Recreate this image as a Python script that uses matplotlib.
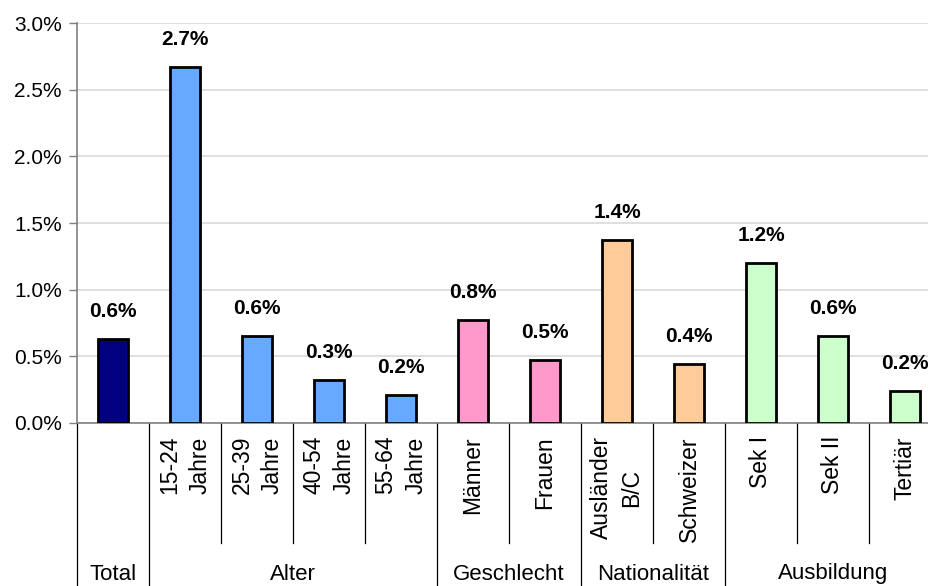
import matplotlib.pyplot as plt
from matplotlib.ticker import FuncFormatter

plt.rcParams['font.family'] = ['Liberation Sans', 'DejaVu Sans']

# data
categories = ["", "15-24\nJahre", "25-39\nJahre", "40-54\nJahre", "55-64\nJahre",
              "Männer", "Frauen", "Ausländer\nB/C", "Schweizer",
              "Sek I", "Sek II", "Tertiär"]
values = [0.63, 2.67, 0.65, 0.32, 0.21, 0.77, 0.47, 1.37, 0.44, 1.20, 0.65, 0.24]
value_labels = ["0.6%", "2.7%", "0.6%", "0.3%", "0.2%", "0.8%", "0.5%",
                "1.4%", "0.4%", "1.2%", "0.6%", "0.2%"]
groups = ["Total", "Alter", "Geschlecht", "Nationalität", "Ausbildung"]
group_sizes = [1, 4, 2, 2, 3]
group_colors = ["#000080", "#66AAFF", "#FF99CC", "#FFCC99", "#CCFFCC"]

colors = []
for c, n in zip(group_colors, group_sizes):
    colors += [c] * n

W, H = 929, 586
fig = plt.figure(figsize=(W / 100, H / 100), dpi=100)
# plot area runs past the right edge of the picture, like the original
ax = fig.add_axes([77 / W, (H - 423) / H, 864 / W, 400 / H])

x = list(range(len(categories)))
bars = ax.bar(x, values, width=0.43, color=colors, edgecolor="black", linewidth=2.0, zorder=3)

for b, lab in zip(bars, value_labels):
    ax.annotate(lab, xy=(b.get_x() + b.get_width() / 2, b.get_height()),
                xytext=(0, 13), textcoords="offset points",
                ha="center", va="bottom", fontsize=15, fontweight="bold")

ax.set_xlim(-0.5, len(categories) - 0.5)
ax.set_ylim(0, 3.0)
ax.set_yticks([0, 0.5, 1.0, 1.5, 2.0, 2.5, 3.0])
ax.yaxis.set_major_formatter(FuncFormatter(lambda v, p: "{:.1f}%".format(v)))
ax.tick_params(axis="y", labelsize=15, length=6, width=1, color="#808080", pad=5)
ax.set_xticks([])
ax.grid(axis="y", color="#d9d9d9", linewidth=1.2, zorder=0)

for s in ["top", "right"]:
    ax.spines[s].set_visible(False)
ax.spines["left"].set_color("#808080")
ax.spines["left"].set_linewidth(1.2)
ax.spines["bottom"].set_color("#808080")
ax.spines["bottom"].set_linewidth(1.2)

trans = ax.get_xaxis_transform()
short_y = -120 / 400
long_y = -165 / 400

# category labels, rotated
for i, cat in enumerate(categories):
    if cat:
        ax.text(i, -13 / 400, cat, transform=trans, rotation=90, ha="center", va="top",
                multialignment="center", fontsize=16.5, linespacing=1.4)

# separators
bounds = [0]
for n in group_sizes:
    bounds.append(bounds[-1] + n)
for i in range(len(categories) + 1):
    y_end = long_y if i in bounds else short_y
    ax.plot([i - 0.5, i - 0.5], [0, y_end], transform=trans, color="black",
            linewidth=0.9, clip_on=False)

# group labels
for g, a, b in zip(groups, bounds[:-1], bounds[1:]):
    ax.text((a + b - 1) / 2, -151 / 400, g, transform=trans, ha="center", va="center",
            fontsize=16)

fig.savefig("out.png", dpi=100)
